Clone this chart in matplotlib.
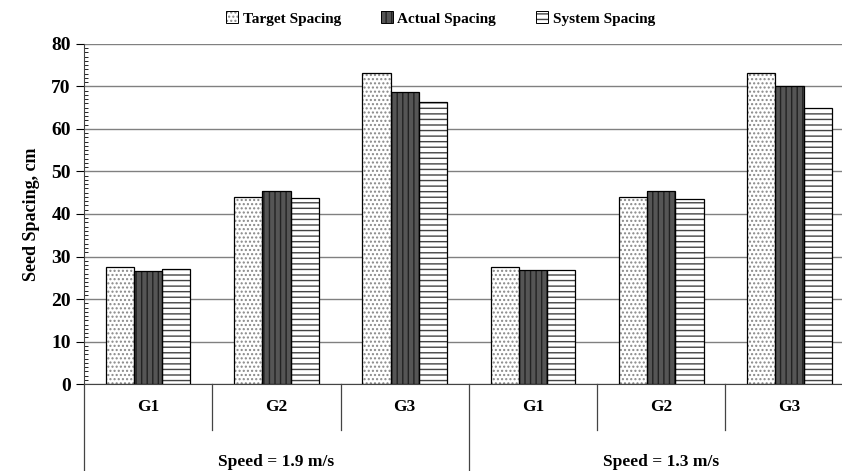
import numpy as np
import matplotlib
matplotlib.use('Agg')
import matplotlib.pyplot as plt

plt.rcParams['font.family'] = ['Liberation Serif', 'DejaVu Serif']
plt.rcParams['font.weight'] = 'bold'

groups = ["G1", "G2", "G3", "G1", "G2", "G3"]
speeds = ["Speed = 1.9 m/s", "Speed = 1.3 m/s"]
target = [27.5, 44.0, 73.2, 27.5, 44.0, 73.2]
actual = [26.7, 45.3, 68.6, 26.9, 45.4, 70.0]
system = [27.0, 43.8, 66.3, 26.9, 43.5, 65.0]
series = ["Target Spacing", "Actual Spacing", "System Spacing"]

fig = plt.figure(figsize=(8.42, 4.71), dpi=100)
ax = fig.add_axes([0.0998, 0.1847, 0.914, 0.7219])

x = np.arange(len(groups))
w = 0.22
styles = [
    dict(facecolor="white", hatch="....", hc="#888888"),
    dict(facecolor="#555555", hatch="|||", hc="#222222"),
    dict(facecolor="white", hatch="---", hc="#444444"),
]
handles = []
for i, (vals, st) in enumerate(zip([target, actual, system], styles)):
    pos = x + (i - 1) * w
    ax.bar(pos, vals, w, facecolor=st["facecolor"], hatch=st["hatch"],
           edgecolor=st["hc"], linewidth=0, zorder=2)
    ax.bar(pos, vals, w, fill=False, edgecolor="black", linewidth=0.9, zorder=3)
    h1 = plt.Rectangle((0, 0), 1, 1, facecolor=st["facecolor"], hatch=st["hatch"],
                       edgecolor=st["hc"], linewidth=0)
    h2 = plt.Rectangle((0, 0), 1, 1, fill=False, edgecolor="black", linewidth=0.7)
    handles.append((h1, h2))

ax.set_xlim(-0.5, 5.5)
ax.set_ylim(0, 80)
ax.set_yticks(np.arange(0, 81, 10))
ax.set_yticks(np.arange(0, 81, 1), minor=True)
ax.yaxis.grid(True, color="#808080", linewidth=1.0, zorder=0)
ax.set_axisbelow(True)
ax.tick_params(axis='y', which='major', direction='out', length=6, labelsize=14, width=0.8)
ax.tick_params(axis='y', which='minor', direction='in', length=3, width=0.6)
for lab in ax.get_yticklabels():
    lab.set_fontweight('bold')
ax.set_xticks([])
ax.spines['right'].set_visible(False)
ax.spines['top'].set_visible(False)
ax.spines['bottom'].set_color('#444444')
ax.spines['left'].set_color('#444444')
ax.set_ylabel("Seed Spacing, cm", fontsize=13, fontweight='bold', labelpad=8)

# category axis below the plot
trans = ax.get_xaxis_transform()
for b in [0.5, 1.5, 3.5, 4.5]:
    ax.plot([b, b], [0, -0.135], transform=trans, color="#444444", lw=0.9, clip_on=False)
for b in [-0.5, 2.5]:
    ax.plot([b, b], [0, -0.30], transform=trans, color="#444444", lw=0.9, clip_on=False)
for xi, g in zip(x, groups):
    ax.text(xi, -0.068, g, transform=trans, ha='center', va='center',
            fontsize=12.5, fontweight='bold')
for k, s in enumerate(speeds):
    ax.text(1 + 3 * k, -0.228, s, transform=trans, ha='center', va='center',
            fontsize=12.5, fontweight='bold')

fig.legend(handles, series, loc='upper center', bbox_to_anchor=(0.523, 1.005), ncol=3,
           frameon=False, handlelength=0.8, handleheight=0.8,
           handletextpad=0.3, columnspacing=2.6, prop={'weight': 'bold', 'size': 11})

fig.savefig("out.png", dpi=100)
